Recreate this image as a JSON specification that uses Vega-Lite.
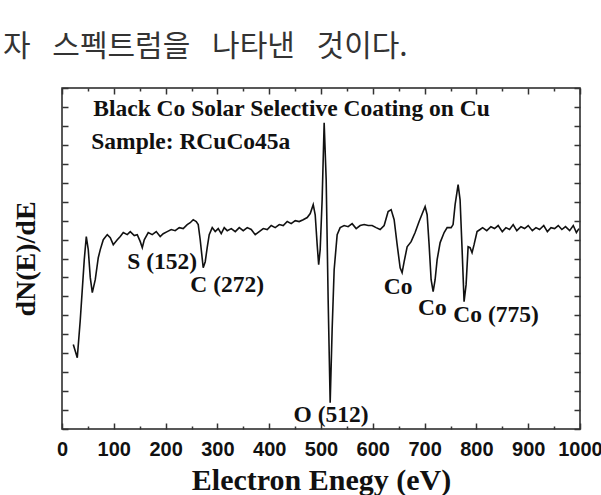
{
  "$schema": "https://vega.github.io/schema/vega-lite/v6.json",
  "width": 518,
  "height": 341,
  "autosize": {"type": "none"},
  "padding": {"left": 62, "top": 88, "right": 21, "bottom": 66},
  "background": "white",
  "config": {
    "view": {"stroke": "#222", "strokeWidth": 1.5},
    "font": "Liberation Serif"
  },
  "title": {
    "text": "자\u2002 스펙트럼을\u2002 나타낸\u2002 것이다.",
    "anchor": "start",
    "frame": "group",
    "dx": -59,
    "offset": 1,
    "baseline": "alphabetic",
    "font": "Noto Sans CJK KR",
    "fontSize": 30,
    "fontWeight": "normal",
    "color": "#333"
  },
  "datasets": {
    "spectrum": [
      {"energy": 21.8, "signal": 4.46},
      {"energy": 29.5, "signal": 3.76},
      {"energy": 35.3, "signal": 5.77},
      {"energy": 43.0, "signal": 8.94},
      {"energy": 46.9, "signal": 10.16},
      {"energy": 50.7, "signal": 9.47},
      {"energy": 54.6, "signal": 7.99},
      {"energy": 58.5, "signal": 7.2},
      {"energy": 64.2, "signal": 7.88},
      {"energy": 70.0, "signal": 9.04},
      {"energy": 73.9, "signal": 9.47},
      {"energy": 79.7, "signal": 9.99},
      {"energy": 87.4, "signal": 10.26},
      {"energy": 93.2, "signal": 10.1},
      {"energy": 99.0, "signal": 9.73},
      {"energy": 106.7, "signal": 9.99},
      {"energy": 112.5, "signal": 10.16},
      {"energy": 118.3, "signal": 10.37},
      {"energy": 126.0, "signal": 10.26},
      {"energy": 131.8, "signal": 10.42},
      {"energy": 139.5, "signal": 10.21},
      {"energy": 145.3, "signal": 10.26},
      {"energy": 151.1, "signal": 9.89},
      {"energy": 155.0, "signal": 9.57},
      {"energy": 158.8, "signal": 9.99},
      {"energy": 166.5, "signal": 10.37},
      {"energy": 174.2, "signal": 10.26},
      {"energy": 181.9, "signal": 10.42},
      {"energy": 189.6, "signal": 10.16},
      {"energy": 195.4, "signal": 10.31},
      {"energy": 203.1, "signal": 10.42},
      {"energy": 210.8, "signal": 10.53},
      {"energy": 218.5, "signal": 10.47},
      {"energy": 226.3, "signal": 10.63},
      {"energy": 234.0, "signal": 10.58},
      {"energy": 241.7, "signal": 10.79},
      {"energy": 247.5, "signal": 10.89},
      {"energy": 253.3, "signal": 11.05},
      {"energy": 259.1, "signal": 10.95},
      {"energy": 263.0, "signal": 10.79},
      {"energy": 266.8, "signal": 9.99},
      {"energy": 272.6, "signal": 8.51},
      {"energy": 276.5, "signal": 8.83},
      {"energy": 280.3, "signal": 9.57},
      {"energy": 284.2, "signal": 10.26},
      {"energy": 290.0, "signal": 10.63},
      {"energy": 295.8, "signal": 10.42},
      {"energy": 301.6, "signal": 10.58},
      {"energy": 307.4, "signal": 10.31},
      {"energy": 313.2, "signal": 10.63},
      {"energy": 319.0, "signal": 10.47},
      {"energy": 326.8, "signal": 10.58},
      {"energy": 334.5, "signal": 10.42},
      {"energy": 342.2, "signal": 10.63},
      {"energy": 349.9, "signal": 10.47},
      {"energy": 357.6, "signal": 10.63},
      {"energy": 365.3, "signal": 10.53},
      {"energy": 373.0, "signal": 10.26},
      {"energy": 380.8, "signal": 10.42},
      {"energy": 388.5, "signal": 10.58},
      {"energy": 396.2, "signal": 10.53},
      {"energy": 403.9, "signal": 10.74},
      {"energy": 411.6, "signal": 10.63},
      {"energy": 419.4, "signal": 10.79},
      {"energy": 427.1, "signal": 10.74},
      {"energy": 434.8, "signal": 10.95},
      {"energy": 442.5, "signal": 10.84},
      {"energy": 450.2, "signal": 11.0},
      {"energy": 457.9, "signal": 10.95},
      {"energy": 465.6, "signal": 11.05},
      {"energy": 473.4, "signal": 11.16},
      {"energy": 479.2, "signal": 11.37},
      {"energy": 485.0, "signal": 11.84},
      {"energy": 488.8, "signal": 11.31},
      {"energy": 492.6, "signal": 9.73},
      {"energy": 495.5, "signal": 8.67},
      {"energy": 498.4, "signal": 9.47},
      {"energy": 502.2, "signal": 12.1},
      {"energy": 506.1, "signal": 16.17},
      {"energy": 510.0, "signal": 13.16},
      {"energy": 513.8, "signal": 6.83},
      {"energy": 517.7, "signal": 1.39},
      {"energy": 521.5, "signal": 5.24},
      {"energy": 525.4, "signal": 8.41},
      {"energy": 531.2, "signal": 10.26},
      {"energy": 537.0, "signal": 10.63},
      {"energy": 544.7, "signal": 10.74},
      {"energy": 552.4, "signal": 10.68},
      {"energy": 560.1, "signal": 10.84},
      {"energy": 567.9, "signal": 10.58},
      {"energy": 575.6, "signal": 10.74},
      {"energy": 583.3, "signal": 10.79},
      {"energy": 591.0, "signal": 10.74},
      {"energy": 598.7, "signal": 10.74},
      {"energy": 606.4, "signal": 10.63},
      {"energy": 614.2, "signal": 10.53},
      {"energy": 621.9, "signal": 10.74},
      {"energy": 629.6, "signal": 11.48},
      {"energy": 635.4, "signal": 11.58},
      {"energy": 641.2, "signal": 11.05},
      {"energy": 647.0, "signal": 9.73},
      {"energy": 652.8, "signal": 8.51},
      {"energy": 656.6, "signal": 8.25},
      {"energy": 660.5, "signal": 8.83},
      {"energy": 666.3, "signal": 9.62},
      {"energy": 674.0, "signal": 9.89},
      {"energy": 681.7, "signal": 10.37},
      {"energy": 689.4, "signal": 10.95},
      {"energy": 697.1, "signal": 11.48},
      {"energy": 701.0, "signal": 11.74},
      {"energy": 704.9, "signal": 11.31},
      {"energy": 708.7, "signal": 9.73},
      {"energy": 712.6, "signal": 7.88},
      {"energy": 716.5, "signal": 7.25},
      {"energy": 720.3, "signal": 7.88},
      {"energy": 724.2, "signal": 8.94},
      {"energy": 730.0, "signal": 9.84},
      {"energy": 737.7, "signal": 10.37},
      {"energy": 743.5, "signal": 10.63},
      {"energy": 751.2, "signal": 10.63},
      {"energy": 755.0, "signal": 10.79},
      {"energy": 758.9, "signal": 11.84},
      {"energy": 764.7, "signal": 12.9},
      {"energy": 768.5, "signal": 12.1},
      {"energy": 772.4, "signal": 9.47},
      {"energy": 776.2, "signal": 6.72},
      {"energy": 780.1, "signal": 7.62},
      {"energy": 784.0, "signal": 9.62},
      {"energy": 787.8, "signal": 9.57},
      {"energy": 791.6, "signal": 9.31},
      {"energy": 795.5, "signal": 9.73},
      {"energy": 801.3, "signal": 10.42},
      {"energy": 807.1, "signal": 10.53},
      {"energy": 812.0, "signal": 10.63},
      {"energy": 820.0, "signal": 10.47},
      {"energy": 828.0, "signal": 10.68},
      {"energy": 835.0, "signal": 10.58},
      {"energy": 842.0, "signal": 10.74},
      {"energy": 850.0, "signal": 10.42},
      {"energy": 857.0, "signal": 10.63},
      {"energy": 864.0, "signal": 10.53},
      {"energy": 871.0, "signal": 10.79},
      {"energy": 878.0, "signal": 10.47},
      {"energy": 886.0, "signal": 10.68},
      {"energy": 893.0, "signal": 10.58},
      {"energy": 900.0, "signal": 10.74},
      {"energy": 908.0, "signal": 10.47},
      {"energy": 915.0, "signal": 10.63},
      {"energy": 922.0, "signal": 10.53},
      {"energy": 930.0, "signal": 10.74},
      {"energy": 937.0, "signal": 10.42},
      {"energy": 944.0, "signal": 10.63},
      {"energy": 951.0, "signal": 10.58},
      {"energy": 958.0, "signal": 10.74},
      {"energy": 965.0, "signal": 10.53},
      {"energy": 972.0, "signal": 10.68},
      {"energy": 980.0, "signal": 10.47},
      {"energy": 987.0, "signal": 10.74},
      {"energy": 993.0, "signal": 10.37},
      {"energy": 998.0, "signal": 10.58}
    ],
    "headers": [
      {"energy": 60.4, "signal": 16.91, "label": "Black Co Solar Selective Coating on Cu"},
      {"energy": 56.5, "signal": 15.17, "label": "Sample:  RCuCo45a"}
    ],
    "peaks": [
      {"energy": 193.5, "signal": 8.83, "label": "S (152)"},
      {"energy": 319.0, "signal": 7.62, "label": "C (272)"},
      {"energy": 649.0, "signal": 7.51, "label": "Co"},
      {"energy": 715.0, "signal": 6.4, "label": "Co"},
      {"energy": 838.0, "signal": 6.03, "label": "Co (775)"},
      {"energy": 519.5, "signal": 0.76, "label": "O (512)"}
    ]
  },
  "layer": [
    {
      "data": {"name": "spectrum"},
      "mark": {"type": "line", "color": "#111", "strokeWidth": 1.6},
      "encoding": {
        "x": {
          "field": "energy", "type": "quantitative",
          "scale": {"domain": [0, 1000], "nice": false, "zero": false},
          "axis": {
            "orient": "bottom",
            "values": [0, 50, 100, 150, 200, 250, 300, 350, 400, 450, 500, 550, 600, 650, 700, 750, 800, 850, 900, 950, 1000],
            "format": "d",
            "labelExpr": "datum.value % 100 === 0 ? datum.label : ''",
            "labelOverlap": false,
            "labelFlush": false,
            "labelFont": "Liberation Sans",
            "labelFontWeight": "bold",
            "labelFontSize": 20,
            "labelColor": "#111",
            "labelPadding": 16,
            "domain": false,
            "grid": false,
            "tickColor": "#333",
            "tickWidth": 1.5,
            "tickSize": {"condition": {"test": "datum.value % 100 === 0", "value": -6}, "value": -3},
            "title": "Electron Enegy (eV)",
            "titleFont": "Liberation Serif",
            "titleFontWeight": "bold",
            "titleFontSize": 30,
            "titleColor": "#111",
            "titlePadding": 3
          }
        },
        "y": {
          "field": "signal", "type": "quantitative",
          "scale": {"domain": [0, 18], "nice": false, "zero": false},
          "axis": {
            "orient": "left",
            "values": [0, 1, 2, 3, 4, 5, 6, 7, 8, 9, 10, 11, 12, 13, 14, 15, 16, 17, 18],
            "labels": false,
            "domain": false,
            "grid": false,
            "tickColor": "#333",
            "tickWidth": 1.5,
            "tickSize": -6,
            "title": "dN(E)/dE",
            "titleFont": "Liberation Serif",
            "titleFontWeight": "bold",
            "titleFontSize": 28,
            "titleColor": "#111",
            "titlePadding": 21
          }
        }
      }
    },
    {
      "data": {"name": "headers"},
      "mark": {"type": "text", "align": "left", "baseline": "middle", "font": "Liberation Serif", "fontWeight": "bold", "fontSize": 23.5, "color": "#111"},
      "encoding": {
        "x": {
          "field": "energy", "type": "quantitative",
          "axis": {
            "orient": "top",
            "values": [0, 50, 100, 150, 200, 250, 300, 350, 400, 450, 500, 550, 600, 650, 700, 750, 800, 850, 900, 950, 1000],
            "labels": false,
            "domain": false,
            "grid": false,
            "tickColor": "#333",
            "tickWidth": 1.5,
            "tickSize": {"condition": {"test": "datum.value % 100 === 0", "value": -6}, "value": -3},
            "title": null
          }
        },
        "y": {
          "field": "signal", "type": "quantitative",
          "axis": {
            "orient": "right",
            "values": [0, 1, 2, 3, 4, 5, 6, 7, 8, 9, 10, 11, 12, 13, 14, 15, 16, 17, 18],
            "labels": false,
            "domain": false,
            "grid": false,
            "tickColor": "#333",
            "tickWidth": 1.5,
            "tickSize": -6,
            "title": null
          }
        },
        "text": {"field": "label"}
      }
    },
    {
      "data": {"name": "peaks"},
      "mark": {"type": "text", "align": "center", "baseline": "middle", "font": "Liberation Serif", "fontWeight": "bold", "fontSize": 23.5, "color": "#111"},
      "encoding": {
        "x": {"field": "energy", "type": "quantitative", "axis": null},
        "y": {"field": "signal", "type": "quantitative", "axis": null},
        "text": {"field": "label"}
      }
    }
  ],
  "resolve": {"axis": {"x": "independent", "y": "independent"}}
}
